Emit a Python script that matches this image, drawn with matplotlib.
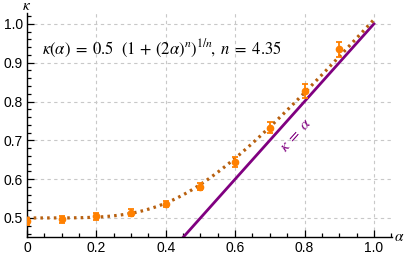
import numpy as np
import matplotlib.pyplot as plt
from matplotlib.ticker import MultipleLocator

# --- data ---
alpha_pts = [0.0, 0.1, 0.2, 0.3, 0.4, 0.5, 0.6, 0.7, 0.8, 0.9]
kappa_pts = [0.492, 0.497, 0.505, 0.514, 0.536, 0.581, 0.644, 0.733, 0.826, 0.934]
kappa_err = [0.009, 0.009, 0.009, 0.009, 0.009, 0.0095, 0.012, 0.015, 0.018, 0.02]

# fitted curve from the label: kappa = 0.5 (1 + (2 alpha)^n)^(1/n)
n_fit = 4.35
alpha_fit = np.linspace(0, 1.0, 300)
kappa_fit = 0.5 * (1 + (2 * alpha_fit) ** n_fit) ** (1 / n_fit)

# kappa = alpha reference line
line_alpha = [0.45, 1.0]
line_kappa = [0.45, 1.0]

plt.rcParams['font.family'] = ['Liberation Sans', 'DejaVu Sans']
plt.rcParams['mathtext.fontset'] = 'stix'

fig = plt.figure(figsize=(4.07, 2.58), dpi=100)
ax = fig.add_axes([0.0663, 0.0814, 0.8967, 0.8682])

ax.grid(True, which='major', color='#c8c8c8', ls=(0, (3, 3)), lw=0.8)
ax.set_axisbelow(True)

ax.plot(line_alpha, line_kappa, color='#800080', lw=2.0, zorder=2)
ax.plot(alpha_fit, kappa_fit, color='#b8600f', lw=2.3, ls=(0, (0.8, 1.3)),
        zorder=3)
ax.errorbar(alpha_pts, kappa_pts, yerr=kappa_err, fmt='o', color='#ff8000',
            ms=4.5, capsize=2.5, elinewidth=1.3, capthick=1.3, zorder=4,
            clip_on=True)

ax.text(0.042, 0.936,
        r'$\kappa(\alpha)\;=\;0.5\ \ \left(1\,+\,(2\alpha)^n\right)^{1/n}\!,\ n\;=\;4.35$',
        fontsize=12, va='center', ha='left')
ax.text(0.775, 0.713, r'$\kappa\;=\;\alpha$', color='#800080', fontsize=11.5,
        rotation=48, rotation_mode='anchor', ha='center', va='center')

ax.set_xlim(0, 1.052)
ax.set_ylim(0.451, 1.028)
ax.xaxis.set_minor_locator(MultipleLocator(0.05))
ax.yaxis.set_minor_locator(MultipleLocator(0.02))
ax.set_xticks([0, 0.2, 0.4, 0.6, 0.8, 1.0])
ax.set_xticklabels(['0', '0.2', '0.4', '0.6', '0.8', '1.0'])
ax.set_yticks([0.5, 0.6, 0.7, 0.8, 0.9, 1.0])
ax.set_yticklabels(['0.5', '0.6', '0.7', '0.8', '0.9', '1.0'])

ax.tick_params(which='both', direction='in', labelsize=10, width=0.9,
               pad=3)
ax.tick_params(which='major', length=5)
ax.tick_params(which='minor', length=3)
for s in ['top', 'right']:
    ax.spines[s].set_visible(False)
for s in ['left', 'bottom']:
    ax.spines[s].set_linewidth(1.0)

ax.text(0.0, 1.045, r'$\kappa$', transform=ax.get_yaxis_transform(),
        fontsize=11, ha='center', va='center')
ax.text(1.057, 0.451, r'$\alpha$', fontsize=11, ha='left', va='center')

fig.savefig('out.png', dpi=100)
